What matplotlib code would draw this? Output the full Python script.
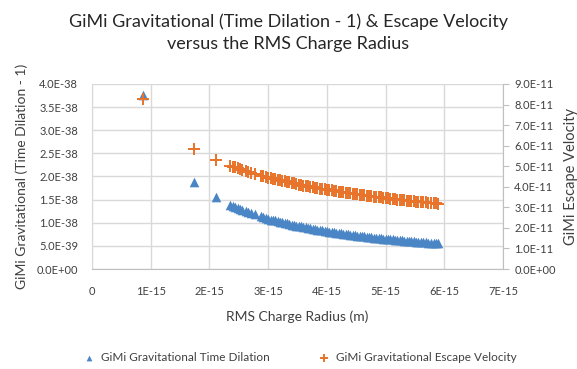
import matplotlib.pyplot as plt
from matplotlib.ticker import FuncFormatter

plt.rcParams['font.family'] = ['Lato', 'DejaVu Sans']

# RMS charge radius (fm, scaled to m below)
radius_fm = [0.87, 1.74, 2.11, 2.35, 2.40, 2.44, 2.48, 2.52, 2.56, 2.62, 2.66, 2.70,
             2.78, 2.88, 2.92, 2.96, 3.00, 3.05, 3.08, 3.12, 3.16, 3.20, 3.24, 3.28,
             3.32, 3.36, 3.40, 3.44, 3.48, 3.52, 3.56, 3.60, 3.64, 3.68, 3.72, 3.76,
             3.80, 3.84, 3.88, 3.92, 3.96, 4.00, 4.04, 4.08, 4.12, 4.16, 4.20, 4.24,
             4.28, 4.32, 4.36, 4.40, 4.44, 4.48, 4.52, 4.56, 4.60, 4.64, 4.68, 4.72,
             4.76, 4.80, 4.84, 4.88, 4.92, 4.96, 5.00, 5.04, 5.08, 5.12, 5.16, 5.20,
             5.24, 5.28, 5.32, 5.36, 5.40, 5.44, 5.48, 5.52, 5.56, 5.60, 5.64, 5.68,
             5.72, 5.78, 5.82, 5.86, 5.90]

# time dilation - 1 (units of 1E-38)
dilation = [3.76, 1.88, 1.55, 1.39, 1.36, 1.34, 1.32, 1.30, 1.28, 1.25, 1.23, 1.21,
            1.18, 1.14, 1.12, 1.10, 1.09, 1.07, 1.06, 1.05, 1.03, 1.02, 1.01, 1.00,
            0.985, 0.973, 0.962, 0.951, 0.940, 0.929, 0.919, 0.908, 0.898, 0.889, 0.879, 0.870,
            0.861, 0.852, 0.843, 0.834, 0.826, 0.818, 0.809, 0.801, 0.794, 0.786, 0.779, 0.771,
            0.764, 0.757, 0.750, 0.743, 0.736, 0.730, 0.723, 0.717, 0.711, 0.705, 0.699, 0.693,
            0.687, 0.681, 0.676, 0.670, 0.665, 0.659, 0.654, 0.649, 0.644, 0.639, 0.634, 0.629,
            0.624, 0.619, 0.615, 0.610, 0.606, 0.601, 0.597, 0.592, 0.588, 0.584, 0.580, 0.576,
            0.572, 0.566, 0.562, 0.558, 0.554]

# escape velocity (units of 1E-11)
escape = [8.27, 5.85, 5.31, 5.00, 4.98, 4.94, 4.90, 4.86, 4.82, 4.76, 4.73, 4.69,
          4.62, 4.54, 4.51, 4.48, 4.45, 4.41, 4.39, 4.36, 4.34, 4.31, 4.28, 4.26,
          4.23, 4.21, 4.18, 4.16, 4.13, 4.11, 4.09, 4.06, 4.04, 4.02, 4.00, 3.98,
          3.96, 3.93, 3.91, 3.89, 3.87, 3.86, 3.84, 3.82, 3.80, 3.78, 3.76, 3.74,
          3.73, 3.71, 3.69, 3.68, 3.66, 3.64, 3.63, 3.61, 3.59, 3.58, 3.56, 3.55,
          3.53, 3.52, 3.50, 3.49, 3.48, 3.46, 3.45, 3.43, 3.42, 3.41, 3.39, 3.38,
          3.37, 3.36, 3.34, 3.33, 3.32, 3.31, 3.29, 3.28, 3.27, 3.26, 3.25, 3.24,
          3.22, 3.21, 3.20, 3.19, 3.17]

x = [r * 1e-15 for r in radius_fm]
y1 = [v * 1e-38 for v in dilation]
y2 = [v * 1e-11 for v in escape]

blue = '#4a86c5'
orange = '#e8732a'
txt = '#404040'
grid = '#d9d9d9'

fig = plt.figure(figsize=(5.77, 3.69), dpi=100)
ax = fig.add_axes([0.1594, 0.271, 0.7124, 0.5014])
ax2 = ax.twinx()

ax.scatter(x, y1, marker='^', s=48, color=blue, zorder=3, linewidths=0)
ax2.scatter(x, y2, marker='+', s=75, color=orange, linewidths=1.4, zorder=3)

ax.set_xlim(0, 7e-15)
ax.set_ylim(0, 4e-38)
ax2.set_ylim(0, 9e-11)
ax.set_xticks([i * 1e-15 for i in range(8)])
ax.set_yticks([i * 5e-39 for i in range(9)])
ax2.set_yticks([i * 1e-11 for i in range(10)])

ax.xaxis.set_major_formatter(FuncFormatter(lambda v, p: '0' if v == 0 else '%dE-15' % round(v / 1e-15)))
ax.yaxis.set_major_formatter(FuncFormatter(lambda v, p: '%.1E' % v))
ax2.yaxis.set_major_formatter(FuncFormatter(lambda v, p: '%.1E' % v))

ax.grid(True, color=grid, linewidth=1.0)
ax.set_axisbelow(True)

for a in (ax, ax2):
    for s in a.spines.values():
        s.set_visible(False)
ax.spines['left'].set_visible(True)
ax.spines['left'].set_color(grid)
ax.spines['bottom'].set_visible(True)
ax.spines['bottom'].set_color('#bfbfbf')
ax2.spines['right'].set_visible(True)
ax2.spines['right'].set_color('#bfbfbf')

ax.tick_params(axis='x', length=0, labelsize=8, labelcolor=txt, pad=12)
ax.tick_params(axis='y', length=0, labelsize=8, labelcolor=txt, pad=10)
ax2.tick_params(axis='y', length=4, color='#bfbfbf', labelsize=8, labelcolor=txt, pad=4)

ax.set_xlabel('RMS Charge Radius (m)', fontsize=10, color=txt, labelpad=10)
ax.set_ylabel('GiMi Gravitational (Time Dilation - 1)', fontsize=10, color=txt, labelpad=6)
ax2.set_ylabel('GiMi Escape Velocity', fontsize=10.5, color=txt, labelpad=6)

fig.text(0.5, 0.912, 'GiMi Gravitational (Time Dilation - 1) & Escape Velocity\nversus the RMS Charge Radius',
         ha='center', va='center', fontsize=13, color='#262626', linespacing=1.5)

h1 = ax.scatter([], [], marker='^', s=48, color=blue, linewidths=0)
h2 = ax.scatter([], [], marker='+', s=75, color=orange, linewidths=1.4)
fig.legend([h1, h2], ['GiMi Gravitational Time Dilation', 'GiMi Gravitational Escape Velocity'],
           loc='center', bbox_to_anchor=(0.515, 0.03), ncol=2, frameon=False,
           fontsize=8.5, labelcolor=txt, handletextpad=0.0, columnspacing=3.6, markerscale=0.6)

fig.savefig('out.png', dpi=100)
